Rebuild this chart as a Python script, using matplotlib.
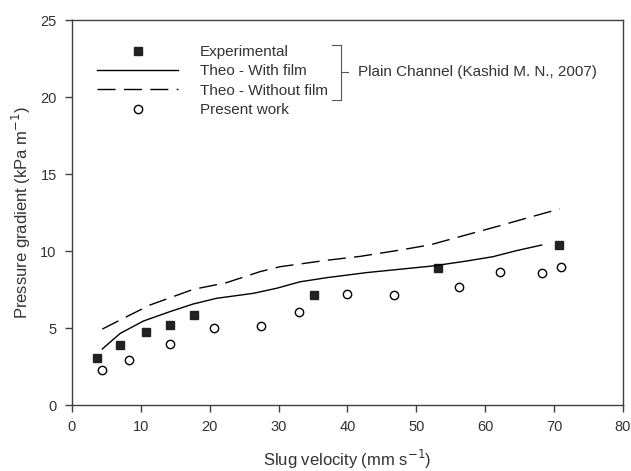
import matplotlib
matplotlib.use('Agg')
import matplotlib.pyplot as plt
from matplotlib.lines import Line2D

plt.rcParams['font.family'] = ['Liberation Sans', 'DejaVu Sans']

# Kashid M. N., 2007 - experimental
exp_x = [3.6, 7.0, 10.8, 14.2, 17.7, 35.2, 53.2, 70.7]
exp_y = [3.03, 3.9, 4.76, 5.19, 5.86, 7.14, 8.87, 10.37]

# Theoretical, with film
with_x = [4.4, 7.0, 10.35, 14.2, 17.6, 21.0, 26.3, 29.7, 33.1, 37.0, 42.8, 52.4, 57.3, 61.1, 64.5, 68.2]
with_y = [3.64, 4.65, 5.45, 6.06, 6.56, 6.93, 7.25, 7.58, 8.0, 8.27, 8.6, 9.03, 9.35, 9.63, 10.02, 10.39]

# Theoretical, without film
without_x = [4.4, 8.4, 11.3, 17.6, 22.4, 27.3, 30.2, 37.0, 41.8, 47.6, 52.0, 56.3, 62.1, 66.5, 70.8]
without_y = [4.93, 5.84, 6.49, 7.51, 7.94, 8.66, 8.98, 9.4, 9.65, 10.06, 10.4, 10.93, 11.64, 12.2, 12.73]

# Present work
pw_x = [4.4, 8.27, 14.2, 20.65, 27.5, 33.0, 39.96, 46.8, 56.2, 62.2, 68.2, 71.0]
pw_y = [2.27, 2.92, 3.96, 5.02, 5.13, 6.04, 7.19, 7.16, 7.66, 8.62, 8.57, 8.98]

fig = plt.figure(figsize=(6.31, 4.71), dpi=100)
ax = fig.add_axes([0.1141, 0.1401, 0.8732, 0.8174])

dark = '#222222'
ax.plot(exp_x, exp_y, 's', color=dark, markersize=6, label='Experimental')
ax.plot(with_x, with_y, '-', color='black', lw=1.0, label='Theo - With film')
ax.plot(without_x, without_y, '--', color='black', lw=1.0, dashes=(13, 6), label='Theo - Without film')
ax.plot(pw_x, pw_y, 'o', mfc='white', mec='black', mew=1.0, markersize=6, label='Present work')

ax.set_xlim(0, 80)
ax.set_ylim(0, 25)
ax.set_xticks(range(0, 81, 10))
ax.set_yticks(range(0, 26, 5))

for s in ax.spines.values():
    s.set_color('#404040')
    s.set_linewidth(1.0)
ax.tick_params(direction='out', length=5, width=1.0, color='#404040',
               labelsize=10.5, labelcolor='#333333', pad=6)

ax.set_xlabel('Slug velocity (mm s$^{-1}$)', fontsize=12, color='#333333', labelpad=10)
ax.set_ylabel('Pressure gradient (kPa m$^{-1}$)', fontsize=12, color='#333333', labelpad=5)

leg = ax.legend(loc='upper left', bbox_to_anchor=(0.032, 0.955), frameon=False,
                fontsize=11, handlelength=5.3, handletextpad=1.4,
                labelspacing=0.35, borderpad=0)
for t in leg.get_texts():
    t.set_color('#333333')

# brace grouping the Kashid entries
W, H = 631.0, 471.0
def fx(p):
    return p / W
def fy(p):
    return 1 - p / H
brace = [((332, 45), (341, 45)), ((341, 45), (341, 100)), ((332, 100), (341, 100)),
         ((341, 72), (348, 72))]
for (x0, y0), (x1, y1) in brace:
    fig.add_artist(Line2D([fx(x0), fx(x1)], [fy(y0), fy(y1)], color='#555555', lw=0.8))
fig.text(fx(358), fy(72), 'Plain Channel (Kashid M. N., 2007)', fontsize=11,
         color='#333333', va='center', ha='left')

fig.savefig('out.png', dpi=100)
